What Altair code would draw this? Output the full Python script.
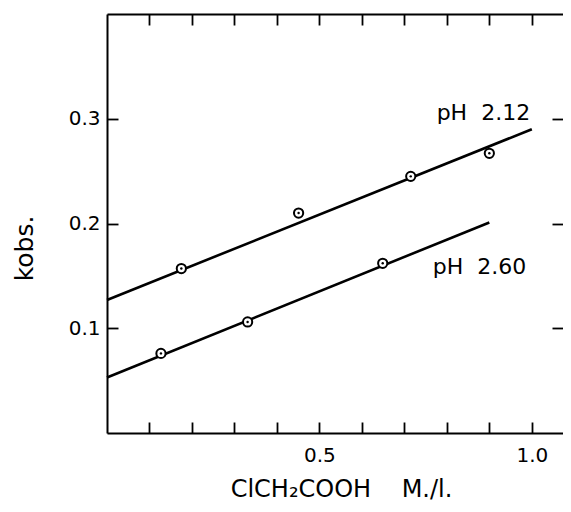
import altair as alt
import pandas as pd

# ---- data ----
series = ["pH 2.12", "pH 2.60"]
x_212 = [0.175, 0.451, 0.715, 0.900]
k_212 = [0.157, 0.210, 0.245, 0.267]
x_260 = [0.127, 0.331, 0.649]
k_260 = [0.076, 0.106, 0.162]

fit_x_212 = [0.0, 1.0]
fit_k_212 = [0.127, 0.290]
fit_x_260 = [0.0, 0.9]
fit_k_260 = [0.053, 0.201]

NB = "\u00a0"
label_text = ["pH" + NB * 2 + "2.12", "pH" + NB * 2 + "2.60"]
label_x = [0.776, 0.767]
label_k = [0.2985, 0.1515]

x_tick_values = [0.1, 0.2, 0.3, 0.4, 0.5, 0.6, 0.7, 0.8, 0.9, 1.0]
x_label_values = [0.5, 1.0]
y_tick_values = [0.1, 0.2, 0.3]

x_title = "ClCH\u2082COOH" + NB * 4 + "M./l."
y_title = "kobs."

# ---- tables ----
pts = pd.DataFrame(
    {"x": x_212 + x_260, "k": k_212 + k_260,
     "series": [series[0]] * len(x_212) + [series[1]] * len(x_260)}
)
fits = pd.DataFrame(
    {"x": fit_x_212 + fit_x_260, "k": fit_k_212 + fit_k_260,
     "series": [series[0]] * 2 + [series[1]] * 2}
)
labels = pd.DataFrame({"x": label_x, "k": label_k, "text": label_text})

FONT = "DejaVu Sans"
XDOM = [0, 1.0734]
YDOM = [0, 0.4]
TICK = 11

xs = alt.Scale(domain=XDOM, nice=False, zero=False)
ys = alt.Scale(domain=YDOM, nice=False, zero=False)

# main axes: frame lines, labels, titles
x_main = alt.Axis(orient="bottom", values=x_label_values, format=".1f", domain=True,
                  domainColor="black", domainWidth=2, ticks=False, tickSize=0,
                  labelPadding=12, labelFont=FONT, labelFontSize=20, labelColor="black",
                  labelFlush=False, labelOverlap=False, grid=False,
                  title=x_title, titleFont=FONT, titleFontSize=24, titleFontWeight="normal",
                  titleColor="black", titleX=234, titleY=63, titleBaseline="alphabetic",
                  titleAlign="center")
y_main = alt.Axis(orient="left", values=y_tick_values, format=".1f", domain=True,
                  domainColor="black", domainWidth=2, ticks=False, tickSize=0,
                  labelPadding=7, labelFont=FONT, labelFontSize=20, labelColor="black",
                  labelOverlap=False, grid=False,
                  title=y_title, titleFont=FONT, titleFontSize=25, titleFontWeight="normal",
                  titleColor="black", titleAngle=270, titleX=-75, titleY=234,
                  titleBaseline="alphabetic", titleAlign="center")

# inward ticks (axes shifted into the plot)
def tick_axis(orient, values):
    return alt.Axis(orient=orient, offset=-TICK, values=values, domain=False, labels=False,
                    ticks=True, tickSize=TICK, tickWidth=1.8, tickColor="black", grid=False)

lines = alt.Chart(fits).mark_line(color="black", strokeWidth=2.6).encode(
    x=alt.X("x:Q", scale=xs, axis=x_main),
    y=alt.Y("k:Q", scale=ys, axis=y_main),
    detail="series:N",
)

circles = alt.Chart(pts).mark_point(shape="circle", size=85, filled=False, color="black",
                                    strokeWidth=2, opacity=1, fill="white", fillOpacity=1).encode(
    x=alt.X("x:Q", scale=xs, axis=tick_axis("bottom", x_tick_values), title=None),
    y=alt.Y("k:Q", scale=ys, axis=tick_axis("left", y_tick_values), title=None),
)

dots = alt.Chart(pts).mark_point(shape="circle", size=6, filled=True, color="black",
                                 opacity=1).encode(
    x=alt.X("x:Q", scale=xs, axis=tick_axis("top", x_tick_values), title=None),
    y=alt.Y("k:Q", scale=ys, axis=tick_axis("right", y_tick_values), title=None),
)

texts = alt.Chart(labels).mark_text(align="left", baseline="alphabetic", font=FONT,
                                    fontSize=22, color="black").encode(
    x=alt.X("x:Q", scale=xs, title=None,
            axis=alt.Axis(orient="top", domain=True, domainColor="black", domainWidth=2,
                          ticks=False, labels=False, grid=False)),
    y=alt.Y("k:Q", scale=ys, axis=None),
    text="text:N",
)

chart = alt.layer(lines, circles, dots, texts).resolve_axis(
    x="independent", y="independent"
).properties(
    width=456, height=419,
    padding={"left": 99, "top": 6, "right": 0, "bottom": 71},
    autosize="none",
).configure_view(stroke=None).configure(background="white")

chart.save("out.html", embed_options={"renderer": "svg", "actions": False})
